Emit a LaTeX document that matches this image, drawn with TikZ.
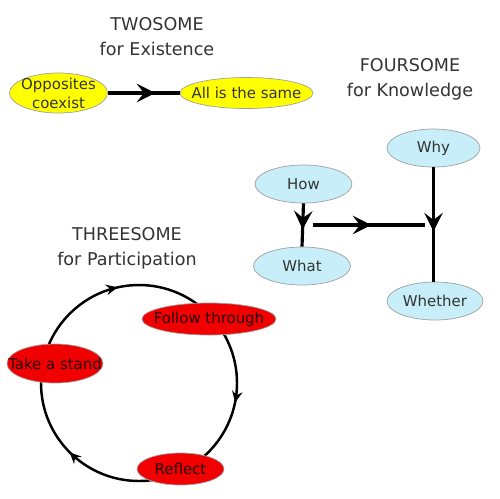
\documentclass[tikz,border=0pt]{standalone}
\usepackage{fontspec}
\setmainfont{DejaVu Sans}
\usetikzlibrary{shapes.geometric,arrows.meta,decorations.markings,calc}
\definecolor{ttext}{HTML}{333333}
\definecolor{yel}{HTML}{FFFF00}
\definecolor{lblue}{HTML}{C8EEFA}
\definecolor{rred}{HTML}{F00000}
\definecolor{eborder}{HTML}{A0A0A0}
\tikzset{
  title/.style={align=center,text=ttext,font=\fontsize{10}{14.2}\selectfont},
  lbl/.style={ellipse,draw=eborder,line width=0.4pt,inner sep=-20pt,align=center,font=\fontsize{8.5}{10.8}\selectfont},
  yelnode/.style={lbl,fill=yel,text=ttext},
  bluenode/.style={lbl,fill=lblue,text=ttext},
  rednode/.style={lbl,fill=rred,text=black!85!red},
  conn/.style={line width=1.8pt},
  midarrow/.style={postaction={decorate},decoration={markings,mark=at position #1 with {\arrow{Stealth[length=10.5pt,width=10.5pt,inset=4pt]}}}},
  cycarrow/.style={line width=1.4pt},
}
\begin{document}
\begin{tikzpicture}[x=0.02cm,y=0.02cm]
\useasboundingbox (0,0) rectangle (500,-498);
% titles
\node[title] (t2) at (157,-37) {TWOSOME\\for Existence};
\node[title] (t4) at (410,-79) {FOURSOME\\for Knowledge};
\node[title] (t3) at (127,-248) {THREESOME\\for Participation};
% twosome
\node[yelnode,minimum width=1.96cm,minimum height=0.80cm] (opp) at (58.5,-93) {Opposites\\coexist};
\node[yelnode,minimum width=2.66cm,minimum height=0.62cm] (all) at (246.5,-93) {All is the same};
\draw[conn,midarrow=0.66] (opp) -- (all);
% foursome
\node[bluenode,minimum width=1.86cm,minimum height=0.76cm] (why) at (433.5,-148) {Why};
\node[bluenode,minimum width=1.94cm,minimum height=0.76cm] (how) at (303.5,-184) {How};
\node[bluenode,minimum width=1.94cm,minimum height=0.76cm] (what) at (302,-266) {What};
\node[bluenode,minimum width=1.92cm,minimum height=0.76cm] (whether) at (435,-301) {Whether};
\coordinate (hs) at (313,-225);
\coordinate (he) at (425,-225);
\draw[conn,midarrow=0.6] (how.south) -- (what.north);
\draw[conn,midarrow=0.52] (hs) -- (he);
\draw[conn,midarrow=0.56] (why.south) -- (why.south |- whether.north);
% threesome
\coordinate (cc) at (139,-383);
\draw[cycarrow,postaction={decorate},decoration={markings,
   mark=at position 0.215 with {\arrow{Stealth[length=6.5pt,width=6pt,inset=2.2pt]}},
   mark=at position 0.532 with {\arrow{Stealth[length=6.5pt,width=6pt,inset=2.2pt]}},
   mark=at position 0.875 with {\arrow{Stealth[length=6.5pt,width=6pt,inset=2.2pt]}}}]
  ($(cc)+(180:98)$) arc[start angle=180,end angle=-180,radius=98];
\node[rednode,minimum width=2.68cm,minimum height=0.64cm] (follow) at (209,-319) {Follow through};
\node[rednode,minimum width=1.92cm,minimum height=0.78cm] (stand) at (55,-363.5) {Take a stand};
\node[rednode,minimum width=1.74cm,minimum height=0.64cm] (reflect) at (180.5,-469) {Reflect};
\end{tikzpicture}
\end{document}
